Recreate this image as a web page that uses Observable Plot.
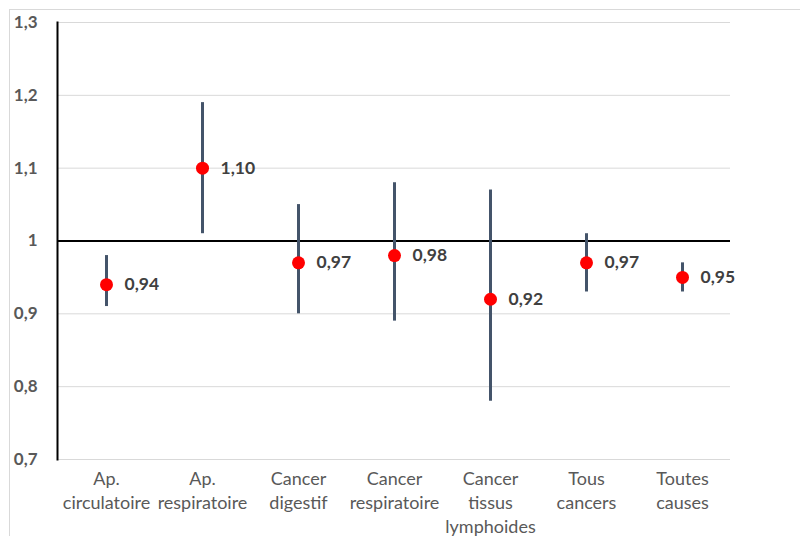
<!DOCTYPE html>
<html>
<head>
<meta charset="utf-8">
<script src="https://cdn.jsdelivr.net/npm/d3@7"></script>
<script src="https://cdn.jsdelivr.net/npm/@observablehq/plot@0.6"></script>
<style>
  html, body { margin: 0; padding: 0; background: #fff; }
  #wrap { position: relative; width: 800px; height: 536px; overflow: hidden; }
  #border { position: absolute; left: 9px; top: 9px; width: 800px; height: 540px;
            border-top: 1px solid #d9d9d9; border-left: 1px solid #d9d9d9; pointer-events: none; }
  #chart svg { display: block; }
</style>
</head>
<body>
<div id="wrap"><div id="chart"></div><div id="border"></div></div>
<script>
const categories = ["Ap. circulatoire", "Ap. respiratoire", "Cancer digestif", "Cancer respiratoire", "Cancer tissus lymphoides", "Tous cancers", "Toutes causes"];
const tickLabels = ["Ap.\ncirculatoire", "Ap.\nrespiratoire", "Cancer\ndigestif", "Cancer\nrespiratoire", "Cancer\ntissus\nlymphoides", "Tous\ncancers", "Toutes\ncauses"];
const estimates = [0.94, 1.10, 0.97, 0.98, 0.92, 0.97, 0.95];
const lower = [0.91, 1.01, 0.90, 0.89, 0.78, 0.93, 0.93];
const upper = [0.98, 1.19, 1.05, 1.08, 1.07, 1.01, 0.97];
const yTicks = [0.7, 0.8, 0.9, 1.0, 1.1, 1.2, 1.3];

const data = categories.map((c, i) => ({cat: c, est: estimates[i], lo: lower[i], hi: upper[i]}));
const labelOf = new Map(categories.map((c, i) => [c, tickLabels[i]]));
const comma = (v, digits) => v.toFixed(digits).replace(".", ",");
const yFmt = v => (Math.abs(v - 1) < 1e-9 ? "1" : comma(v, 1));

const chart = Plot.plot({
  width: 800,
  height: 536,
  marginLeft: 57,
  marginRight: 70,
  marginTop: 22,
  marginBottom: 77,
  style: {fontFamily: "Lato, 'Open Sans', sans-serif", background: "transparent"},
  x: {type: "band", domain: categories, padding: 0, axis: null, label: null},
  y: {domain: [0.7, 1.3], axis: null, label: null},
  marks: [
    Plot.ruleY(yTicks, {stroke: "#d9d9d9", strokeWidth: 1}),
    Plot.ruleY([1], {stroke: "#000", strokeWidth: 2}),
    Plot.frame({anchor: "left", stroke: "#000", strokeWidth: 2}),
    Plot.ruleX(data, {x: "cat", y1: "lo", y2: "hi", stroke: "#44546a", strokeWidth: 3}),
    Plot.dot(data, {x: "cat", y: "est", r: 6.5, fill: "#ff0000", stroke: "none"}),
    Plot.text(data, {x: "cat", y: "est", text: d => comma(d.est, 2), dx: 18, textAnchor: "start",
                     fontWeight: "bold", fontSize: 17.5, fill: "#404040"}),
    Plot.axisY(yTicks, {tickSize: 0, tickPadding: 20, tickFormat: yFmt, fontWeight: "bold",
                        fontSize: 17, color: "#595959", label: null}),
    Plot.axisX({tickSize: 0, tickPadding: 8, tickFormat: d => labelOf.get(d), fontSize: 18,
                lineHeight: 1.34, color: "#595959", label: null})
  ]
});
document.getElementById("chart").appendChild(chart);
</script>
</body>
</html>
